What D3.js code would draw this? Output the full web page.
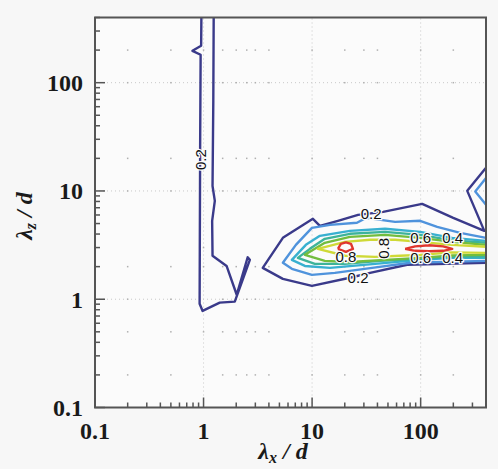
<!DOCTYPE html>
<html><head><meta charset="utf-8">
<script src="https://cdn.jsdelivr.net/npm/d3@7"></script>
<style>body{margin:0;background:#f7f7f7}svg{display:block}</style>
</head><body><svg id="c" width="498" height="469"></svg>
<script>
// ---- data (λx/d, λz/d) ----
const xTickValues = [0.1, 1, 10, 100];
const yTickValues = [0.1, 1, 10, 100];
const xTickLabels = ["0.1", "1", "10", "100"];
const yTickLabels = ["0.1", "1", "10", "100"];
const contourLevels = [0.2, 0.3, 0.4, 0.5, 0.6, 0.7, 0.8];

const c02Left = [[0.955,400],[0.95,219],[0.79,197],[0.94,181],[0.93,23.5],[0.92,0.907],[0.98,0.78],[1.41,0.93],[1.94,0.95],[2.67,2.31],[2.55,2.44],[2.02,1.10],[1.63,2.03],[1.21,2.52],[1.20,5.30],[1.27,8.10],[1.21,11.1],[1.23,68],[1.24,400]];
const c02Right = [[400,16.35],[268.8,10.02],[385.8,4.28],[199.6,5.64],[103.3,7.60],[45.1,6.41],[26.5,6.02],[17.3,5.30],[11.8,4.76],[10.17,5.53],[5.38,3.69],[3.51,1.95],[5.38,1.54],[9.96,1.33],[22.3,1.58],[34.2,1.75],[75.1,2.08],[400,2.17]];
const c03Main = [[400,3.69],[231.6,4.10],[142,4.66],[98.9,5.30],[58.2,5.18],[31.4,5.64],[25.9,5.08],[14.6,4.86],[9.96,4.56],[7.09,3.18],[5.38,2.17],[6.51,1.91],[9.96,1.68],[16.2,1.75],[35.7,1.95],[80.0,2.17],[400,2.26]];
const c03Wedge = [[400,13.2],[318.6,9.9],[400,7.45]];
const c04Main = [[400,3.46],[195.4,3.69],[98.9,4.19],[47.0,4.47],[22.3,4.28],[11.8,3.85],[8.76,3.18],[6.51,2.31],[8.58,2.03],[14.6,1.95],[38.0,2.12],[98.9,2.31],[195.4,2.41],[400,2.41]];
const c05Main = [[400,3.32],[195.4,3.50],[98.9,3.93],[47.0,4.19],[22.3,4.02],[13.1,3.61],[9.54,2.92],[7.39,2.41],[10.6,2.12],[20.1,2.12],[42.3,2.26],[98.9,2.36],[195.4,2.46],[400,2.49]];
const c06Main = [[400,3.18],[195.4,3.39],[98.9,3.69],[47.0,3.93],[22.3,3.77],[13.1,3.32],[8.58,2.57],[13.1,2.26],[22.3,2.21],[47.0,2.31],[98.9,2.41],[195.4,2.54],[400,2.57]];
const c07Main = [[400,3.05],[195.4,3.18],[98.9,3.39],[58.2,3.54],[34.2,3.54],[20.1,3.39],[11.3,2.92],[20.1,2.52],[38.0,2.46],[64.7,2.52],[98.9,2.57],[195.4,2.71],[400,2.68]];
const c08Small = [[17.3,2.92],[18.4,3.25],[20.5,3.35],[22.8,3.25],[23.8,2.92],[20.5,2.74],[17.3,2.92]];
const c08Peak = [[71.9,2.92],[89.0,3.08],[119.8,3.15],[161.4,3.08],[195.4,2.92],[161.4,2.80],[119.8,2.77],[89.0,2.80],[71.9,2.92]];

const contourLines = [
  {level: 0.2, pts: c02Left}, {level: 0.2, pts: c02Right},
  {level: 0.3, pts: c03Main}, {level: 0.3, pts: c03Wedge},
  {level: 0.4, pts: c04Main}, {level: 0.5, pts: c05Main},
  {level: 0.6, pts: c06Main}, {level: 0.7, pts: c07Main},
  {level: 0.8, pts: c08Small}, {level: 0.8, pts: c08Peak}
];

// contour labels: text, λx, λz, rotated
const labelTexts = ["0.2", "0.2", "0.2", "0.8", "0.8", "0.6", "0.4", "0.6", "0.4"];
const labelX = [0.93, 35, 26.5, 20.5, 46, 100, 197, 100, 197];
const labelZ = [19.5, 6.2, 1.6, 2.46, 2.95, 3.69, 3.69, 2.43, 2.43];
const labelRot = [true, false, false, false, true, false, false, false, false];

// ---- styles ----
const levelColor = d3.scaleOrdinal().domain(contourLevels)
  .range(["#3a3a8a", "#4f93dc", "#38b0d0", "#3db39a", "#72bd3e", "#cfd936", "#e0362e"]);

const svg = d3.select("#c");
const x = d3.scaleLog().domain([0.1, 400]).range([95, 486]);
const y = d3.scaleLog().domain([0.1, 400]).range([407.5, 17.5]);

svg.append("rect").attr("x", x(0.1)).attr("y", y(400)).attr("width", x(400) - x(0.1))
  .attr("height", y(0.1) - y(400)).attr("fill", "#fbfbfb");

// grid: dotted major lines + sparse dots
const g = svg.append("g");
const gridMajor = [1, 10, 100];
gridMajor.forEach(v => {
  g.append("line").attr("x1", x(v)).attr("x2", x(v)).attr("y1", y(0.1)).attr("y2", y(400))
    .attr("stroke", "#c8c8c8").attr("stroke-width", 1).attr("stroke-dasharray", "1,3");
  g.append("line").attr("y1", y(v)).attr("y2", y(v)).attr("x1", x(0.1)).attr("x2", x(400))
    .attr("stroke", "#c8c8c8").attr("stroke-width", 1).attr("stroke-dasharray", "1,3");
});
const dotX = [0.2, 0.5, 1.5, 2, 2.5, 3, 4, 20, 30, 40, 200];
const dotY = [0.2, 0.5, 2, 3, 20, 200];
dotX.forEach(vx => [0.2, 0.5, 1, 2, 10, 20, 100, 200].forEach(vy => {
  g.append("rect").attr("x", x(vx) - 0.75).attr("y", y(vy) - 0.75).attr("width", 1.5).attr("height", 1.5).attr("fill", "#b0b0b0");
}));
dotY.forEach(vy => [1, 10, 100].forEach(vx => {
  g.append("rect").attr("x", x(vx) - 0.75).attr("y", y(vy) - 0.75).attr("width", 1.5).attr("height", 1.5).attr("fill", "#b0b0b0");
}));

// contours
const line = d3.line().x(d => x(d[0])).y(d => y(d[1]));
svg.append("g").selectAll("path").data(contourLines).join("path")
  .attr("d", d => line(d.pts)).attr("fill", "none")
  .attr("stroke", d => levelColor(d.level)).attr("stroke-width", 2.4)
  .attr("stroke-linejoin", "round");

// contour labels
svg.append("g").selectAll("text").data(labelTexts).join("text")
  .attr("transform", (t, i) => `translate(${x(labelX[i])},${y(labelZ[i])})` + (labelRot[i] ? " rotate(-90)" : ""))
  .attr("text-anchor", "middle").attr("dy", "0.36em")
  .attr("font-family", "Liberation Sans, Arial, sans-serif").attr("font-size", 15)
  .attr("fill", "#111").attr("stroke", "#fbfbfb").attr("stroke-width", 2.5)
  .attr("paint-order", "stroke").text(t => t);

// frame
svg.append("rect").attr("x", x(0.1)).attr("y", y(400)).attr("width", x(400) - x(0.1))
  .attr("height", y(0.1) - y(400)).attr("fill", "none").attr("stroke", "#555").attr("stroke-width", 2);

// ticks (inside, left and bottom)
const tk = svg.append("g").attr("stroke", "#555").attr("stroke-width", 1.5);
[0.1, 1, 10, 100].forEach(dec => {
  for (let m = 1; m <= 9; m++) {
    const v = dec * m;
    if (v > 400) break;
    const len = m === 1 ? 10 : 5;
    tk.append("line").attr("x1", x(0.1)).attr("x2", x(0.1) + len).attr("y1", y(v)).attr("y2", y(v));
    tk.append("line").attr("y1", y(0.1)).attr("y2", y(0.1) - len).attr("x1", x(v)).attr("x2", x(v));
  }
});

// tick labels
const tf = "Liberation Serif, Times New Roman, serif";
svg.append("g").selectAll("text").data(yTickValues).join("text")
  .attr("x", 83).attr("y", d => y(d)).attr("dy", "0.35em").attr("text-anchor", "end")
  .attr("font-family", tf).attr("font-weight", "bold").attr("font-size", 24).attr("fill", "#1a1a1a")
  .text((d, i) => yTickLabels[i]);
svg.append("g").selectAll("text").data(xTickValues).join("text")
  .attr("x", d => x(d)).attr("y", 439).attr("text-anchor", "middle")
  .attr("font-family", tf).attr("font-weight", "bold").attr("font-size", 24).attr("fill", "#1a1a1a")
  .text((d, i) => xTickLabels[i]);

// axis titles
const xt = svg.append("text").attr("x", 283).attr("y", 459).attr("text-anchor", "middle")
  .attr("font-family", tf).attr("font-weight", "bold").attr("font-style", "italic").attr("font-size", 24).attr("fill", "#1a1a1a");
xt.append("tspan").text("λ");
xt.append("tspan").attr("font-size", 16).attr("dy", 4).text("x");
xt.append("tspan").attr("dy", -4).text(" / d");

const yt = svg.append("text").attr("transform", "translate(32,216) rotate(-90)").attr("text-anchor", "middle")
  .attr("font-family", tf).attr("font-weight", "bold").attr("font-style", "italic").attr("font-size", 24).attr("fill", "#1a1a1a");
yt.append("tspan").text("λ");
yt.append("tspan").attr("font-size", 16).attr("dy", 4).text("z");
yt.append("tspan").attr("dy", -4).text(" / d");
</script>
</body></html>
